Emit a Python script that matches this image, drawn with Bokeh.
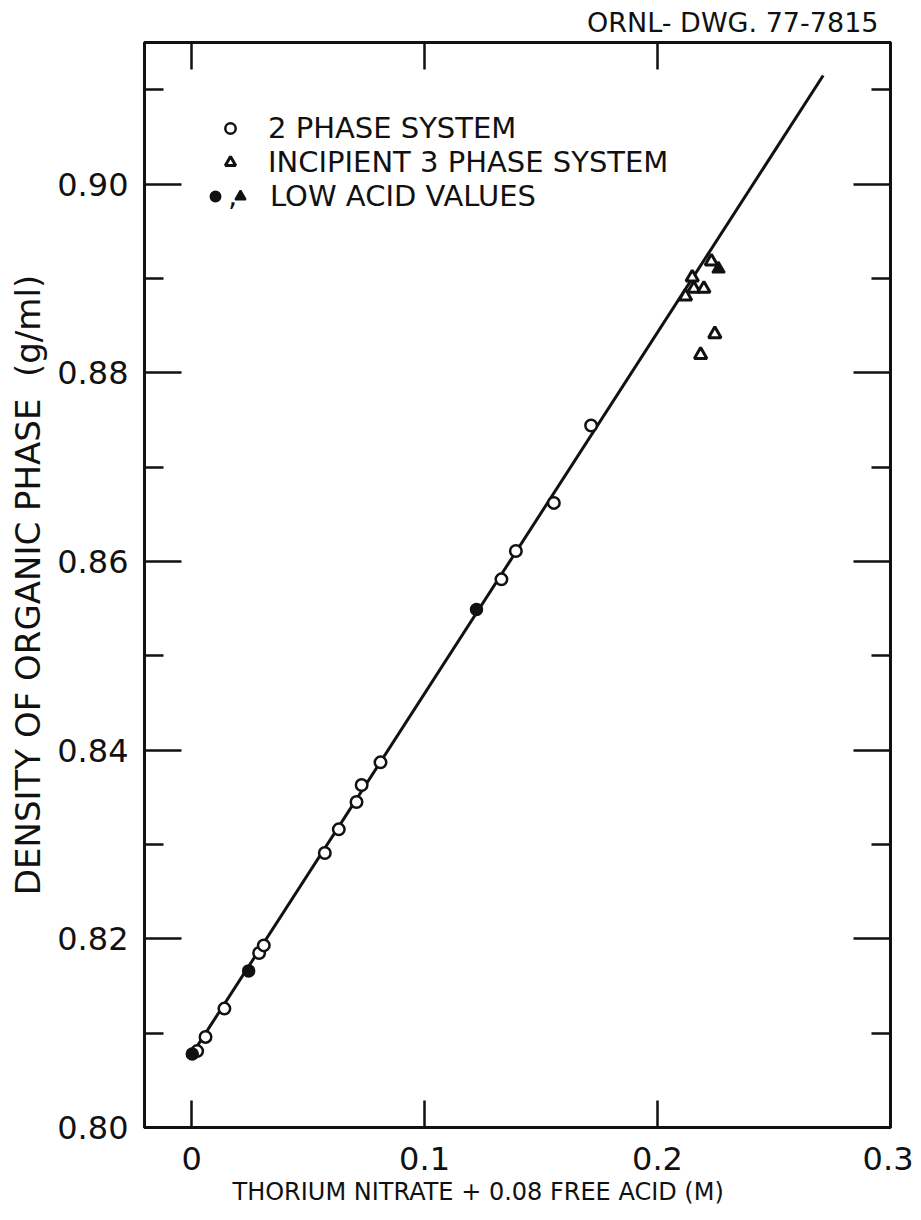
from bokeh.plotting import figure
from bokeh.models import (LinearAxis, FixedTicker, CustomJSTickFormatter, Legend,
                          LegendItem, Title, Range1d)
from bokeh.embed import file_html
from bokeh.resources import INLINE

# ---------------- data ----------------
# 2 phase system (open circles)
two_phase_x = [0.0024, 0.0060, 0.0141, 0.0290, 0.0310, 0.0572, 0.0632,
               0.0708, 0.0730, 0.0811, 0.1330, 0.1392, 0.1555, 0.1715]
two_phase_y = [0.8081, 0.8096, 0.8126, 0.8185, 0.8193, 0.8291, 0.8316,
               0.8345, 0.8363, 0.8387, 0.8581, 0.8611, 0.8662, 0.8744]

# incipient 3 phase system (open triangles)
incipient_x = [0.2120, 0.2149, 0.2156, 0.2199, 0.2231, 0.2246, 0.2185]
incipient_y = [0.8881, 0.8901, 0.8889, 0.8889, 0.8918, 0.8841, 0.8819]

# low acid values (filled circles / filled triangle)
low_acid_circle_x = [0.0003, 0.0245, 0.1223]
low_acid_circle_y = [0.8078, 0.8166, 0.8549]
low_acid_tri_x = [0.2262]
low_acid_tri_y = [0.8910]

# fitted straight line (end points)
fit_x = [0.0, 0.2711]
fit_y = [0.8077, 0.9115]

# ticks
x_ticks = [0.0, 0.1, 0.2, 0.3]
x_tick_labels = ["0", "0.1", "0.2", "0.3"]
y_ticks = [0.80, 0.82, 0.84, 0.86, 0.88, 0.90]
y_tick_labels = ["0.80", "0.82", "0.84", "0.86", "0.88", "0.90"]
y_minor_ticks = [0.81, 0.83, 0.85, 0.87, 0.89, 0.91]

x_label = "THORIUM  NITRATE + 0.08 FREE ACID (M)"
y_label = "DENSITY OF ORGANIC PHASE\u00a0 (g/ml)"
drawing_id = "ORNL- DWG. 77-7815"
legend_labels = ["2 PHASE SYSTEM", "INCIPIENT 3 PHASE SYSTEM", ",", "LOW ACID VALUES"]

FONT = "DejaVu Sans"
INK = "#111111"

fmt_code = """
let best = -1, d = 1e9;
for (let i = 0; i < tv.length; i++) {
  const e = Math.abs(tv[i] - tick);
  if (e < d) { d = e; best = i; }
}
return d < 1e-9 ? tl[best] : "";
"""

p = figure(width=913, height=1212,
           x_range=Range1d(-0.0202, 0.3), y_range=Range1d(0.80, 0.915),
           output_backend="svg", toolbar_location=None,
           min_border_left=144, min_border_right=23,
           min_border_top=42, min_border_bottom=85)
p.xgrid.visible = False
p.ygrid.visible = False
p.outline_line_color = INK
p.outline_line_width = 3
p.background_fill_color = "white"
p.border_fill_color = "white"


def style_axis(ax, tick_in, minor_in, show_labels=True, standoff=10):
    ax.axis_line_color = INK
    ax.axis_line_width = 3
    ax.major_tick_line_color = INK
    ax.major_tick_line_width = 2.5
    ax.minor_tick_line_color = INK
    ax.minor_tick_line_width = 2.5
    ax.major_tick_in = tick_in
    ax.major_tick_out = 0
    ax.minor_tick_in = minor_in
    ax.minor_tick_out = 0
    ax.major_label_text_font = FONT
    if show_labels:
        ax.major_label_text_color = INK
        ax.major_label_text_font_size = "32px"
        ax.major_label_standoff = standoff
    else:
        ax.major_label_text_color = None
        ax.major_label_text_alpha = 0
        ax.major_label_text_font_size = "1px"
        ax.major_label_standoff = 0


# bottom axis
xa = p.xaxis[0]
xa.ticker = FixedTicker(ticks=x_ticks, minor_ticks=[])
xa.formatter = CustomJSTickFormatter(args=dict(tv=x_ticks, tl=x_tick_labels), code=fmt_code)
style_axis(xa, 27, 0, True, 19)

# left axis
ya = p.yaxis[0]
ya.ticker = FixedTicker(ticks=y_ticks, minor_ticks=y_minor_ticks)
ya.formatter = CustomJSTickFormatter(args=dict(tv=y_ticks, tl=y_tick_labels), code=fmt_code)
style_axis(ya, 37, 19, True, 16)
ya.axis_label = y_label
ya.axis_label_text_font = FONT
ya.axis_label_text_font_size = "34px"
ya.axis_label_text_font_style = "normal"
ya.axis_label_text_color = INK
ya.axis_label_standoff = 6

# right axis (ticks only)
ra = LinearAxis(ticker=FixedTicker(ticks=y_ticks, minor_ticks=y_minor_ticks))
style_axis(ra, 37, 19, False)
p.add_layout(ra, "right")

# top axis (ticks only)
ta = LinearAxis(ticker=FixedTicker(ticks=x_ticks, minor_ticks=[]))
style_axis(ta, 27, 0, False)
p.add_layout(ta, "above")

# drawing number at top right
p.add_layout(Title(text=drawing_id, align="right", offset=12, text_font=FONT,
                   text_font_size="27px", text_font_style="normal",
                   text_color=INK, standoff=9), "above")

# x axis label (left of centre, as in the drawing)
p.add_layout(Title(text=x_label, align="left", offset=88, text_font=FONT,
                   text_font_size="24px", text_font_style="normal",
                   text_color=INK, standoff=6), "below")

# ---------------- glyphs ----------------
p.line(fit_x, fit_y, line_color=INK, line_width=3)
r_open = p.scatter(two_phase_x, two_phase_y, marker="circle", size=11.5,
                   fill_color="white", line_color=INK, line_width=2.5)
r_tri = p.scatter(incipient_x, incipient_y, marker="triangle", size=12.5,
                  fill_color="white", line_color=INK, line_width=3)
r_fc = p.scatter(low_acid_circle_x, low_acid_circle_y, marker="circle", size=12,
                 fill_color=INK, line_color=INK, line_width=1.5)
r_ft = p.scatter(low_acid_tri_x, low_acid_tri_y, marker="triangle", size=12.5,
                 fill_color=INK, line_color=INK, line_width=2)

# ---------------- legend (one row per legend box) ----------------
common = dict(padding=0, margin=0, spacing=0, border_line_color=None,
              background_fill_alpha=0, label_text_font=FONT,
              label_text_font_size="29px", label_text_color=INK,
              glyph_width=26, glyph_height=26, label_height=34)
leg_1 = Legend(items=[LegendItem(label=legend_labels[0], renderers=[r_open])],
               location=(73, 982), label_standoff=25, **common)
leg_2 = Legend(items=[LegendItem(label=legend_labels[1], renderers=[r_tri])],
               location=(73, 948), label_standoff=25, **common)
leg_3a = Legend(items=[LegendItem(label=legend_labels[2], renderers=[r_fc])],
                location=(58, 914), label_standoff=0, **common)
leg_3b = Legend(items=[LegendItem(label=legend_labels[3], renderers=[r_ft])],
                location=(83, 914), label_standoff=17, **common)
for lg in (leg_1, leg_2, leg_3a, leg_3b):
    p.add_layout(lg)

open("out.html", "w").write(file_html(p, INLINE))
